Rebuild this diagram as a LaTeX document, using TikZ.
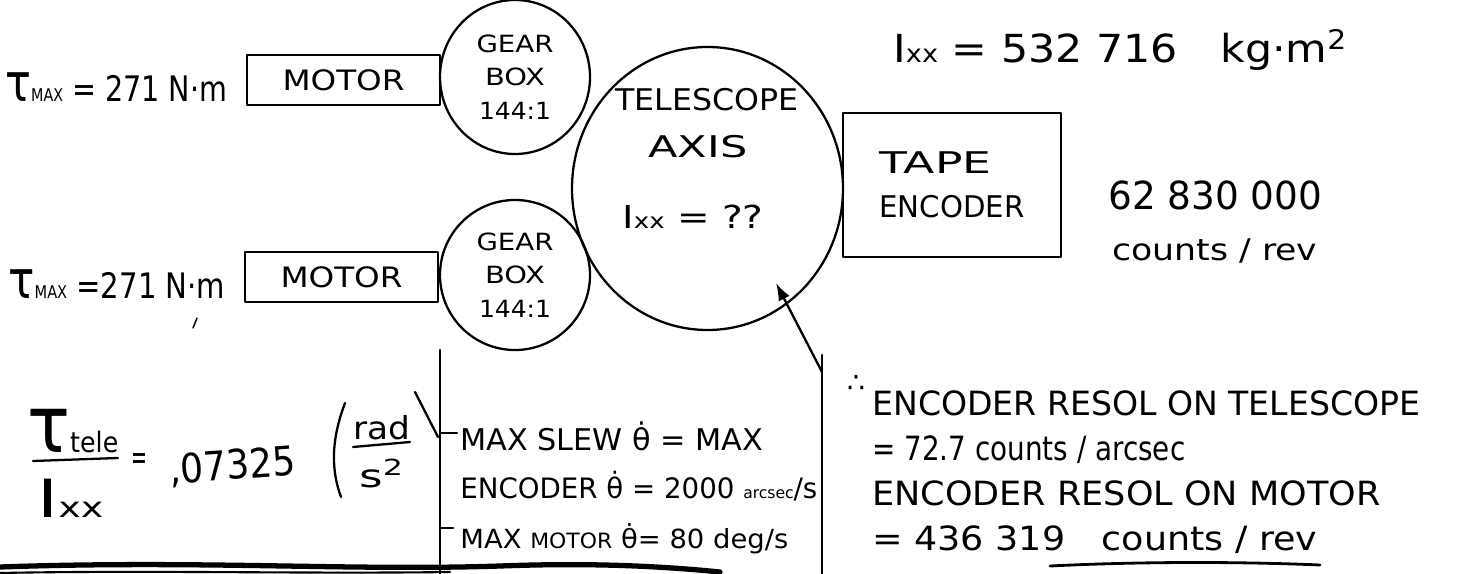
\documentclass[tikz,border=0pt]{standalone}
\usepackage{fontspec}
\usepackage{graphicx}
\setmainfont{DejaVu Sans}
\usetikzlibrary{shapes.geometric,arrows.meta}
\newdimen\pxu \pxu=0.02cm
\newcommand\hs[2]{\resizebox{#1\pxu}{\height}{#2}}
\newcommand\tauc{\scalebox{1.5}{τ}}
\newcommand\thd{θ̇}
\newcommand\fs[1]{\fontsize{#1}{#1}\selectfont}
\tikzset{
  pen/.style={line width=1.3pt},
  boxn/.style={draw, pen, rectangle, inner sep=0pt},
  gearn/.style={draw, pen, ellipse, inner sep=0pt, align=center, font=\fontsize{13.5}{19}\selectfont},
  txt/.style={inner sep=0pt, anchor=base west},
  ctxt/.style={inner sep=0pt, anchor=base},
  arr/.style={pen, -{Latex[length=10pt,width=7pt]}},
}
\begin{document}
\begin{tikzpicture}[x=0.02cm,y=-0.02cm,line cap=round,line join=round]
\useasboundingbox (0,0) rectangle (1460,574);

% motors and gearboxes
\node[boxn, minimum width=193\pxu, minimum height=50\pxu, font=\fs{16}] (motor1) at (343.5,80) {\hs{122}{MOTOR}};
\node[boxn, minimum width=193\pxu, minimum height=50\pxu, font=\fs{16}] (motor2) at (341.5,277) {\hs{122}{MOTOR}};
\node[gearn, minimum width=150\pxu, minimum height=154\pxu] (gear1) at (515,77) {\hs{77}{GEAR}\\\hs{60}{BOX}\\\hs{72}{144:1}};
\node[gearn, minimum width=150\pxu, minimum height=150\pxu] (gear2) at (515,275) {\hs{77}{GEAR}\\\hs{60}{BOX}\\\hs{72}{144:1}};

% telescope axis
\node[draw, pen, ellipse, inner sep=0pt, minimum width=271\pxu, minimum height=283\pxu] (tel) at (707.5,188.5) {};
\node[ctxt, font=\fs{17}] (telA) at (707,111) {\hs{183}{TELESCOPE}};
\node[ctxt, font=\fs{17}] (telB) at (698,158) {\hs{99}{AXIS}};
\node[ctxt, font=\fs{18}] (telC) at (693,229) {\hs{141}{I{\fs{12}xx} = ??}};

% tape encoder
\node[boxn, minimum width=218\pxu, minimum height=144\pxu, align=left, font=\fontsize{17}{25}\selectfont] (enc) at (952,185) {\hs{112}{TAPE}\\\hs{145}{ENCODER}};

% labels
\node[txt, font=\fs{20}] (tmax1) at (5,102) {\hs{222}{\tauc{\fs{10}MAX} = 271 N·m}};
\node[txt, font=\fs{20}] (tmax2) at (8,298) {\hs{217}{\tauc{\fs{10}MAX} =271 N·m}};
\node[txt, font=\fs{22}] (ixx) at (893,63) {\hs{454}{I{\fs{14}xx} = 532 716\quad kg·m\textsuperscript{2}}};
\node[txt, font=\fs{22}] (cnt1) at (1108,210) {\hs{214}{62 830 000}};
\node[txt, font=\fs{17}] (cnt2) at (1112,260) {\hs{205}{counts / rev}};

% fraction
\node[txt] (num) at (27,452) {\hs{91}{{\fs{30}\tauc}{\fs{16}tele}}};
\draw[pen] (33,461) -- (118,458);
\node[txt] (den) at (37,517) {\hs{66}{{\fs{30}I}{\fs{16}xx}}};
\node[txt, font=\fs{20}] (eq) at (131,469) {\hs{16}{=}};
\node[txt, font=\fs{23}, rotate=4] (val) at (170,484) {\hs{127}{,07325}};
\draw[pen] (345,403) .. controls (331,440) and (331,470) .. (341,497);
\node[txt, font=\fs{18}] (rad) at (353,439) {\hs{57}{rad}};
\draw[pen] (353,447) -- (410,442);
\node[txt, font=\fs{18}] (s2) at (359,487) {\hs{45}{s\textsuperscript{2}}};
\draw[pen] (415,392) -- (438,437);

% slew rates
\draw[line width=1.6pt] (440,350) -- (440,574);
\draw[pen] (440,433) -- (457,433);
\draw[pen] (440,528) -- (453,528);
\node[txt, font=\fs{17}] (slew1) at (460,450) {\hs{303}{MAX SLEW \thd{} = MAX}};
\node[txt, font=\fs{16}] (slew2) at (460,498) {\hs{357}{ENCODER \thd{} = 2000 {\fs{9}arcsec}/s}};
\node[txt, font=\fs{15}] (slew3) at (460,548) {\hs{328}{MAX {\fs{12}MOTOR} \thd{}= 80 deg/s}};

% arrow to telescope
\coordinate (atail) at (822,372);
\coordinate (atip) at (776,283);
\draw[arr] (atail) -- (atip);
\draw[line width=1.6pt] (822,355) -- (822,574);

% resolution
\node[inner sep=0pt, font=\fs{16}] (therefore) at (856,384) {∴};
\node[txt, font=\fs{19}] (res1) at (872,415) {\hs{548}{ENCODER RESOL ON TELESCOPE}};
\node[txt, font=\fs{19}] (res2) at (872,460) {\hs{313}{= 72.7 counts / arcsec}};
\node[txt, font=\fs{19}] (res3) at (872,505) {\hs{508}{ENCODER RESOL ON MOTOR}};
\node[txt, font=\fs{19}] (res4) at (872,550) {\hs{445}{= 436 319\quad counts / rev}};

% stray mark and bottom lines
\draw[line width=0.8pt] (193,328) -- (197,318);
\draw[line width=3pt] (0,567) .. controls (200,560) and (350,571) .. (500,566) .. controls (580,563) and (650,565) .. (720,572);
\draw[line width=1.2pt] (0,573) .. controls (150,570) and (300,574) .. (450,572);
\draw[line width=1.6pt] (1050,566) .. controls (1150,561) and (1250,562) .. (1320,565);
\end{tikzpicture}
\end{document}
